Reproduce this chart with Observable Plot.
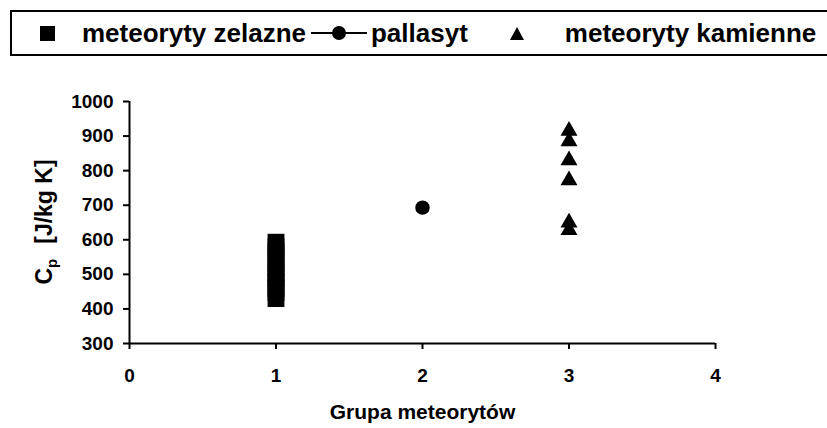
<!DOCTYPE html>
<html>
<head>
<meta charset="utf-8">
<script src="https://cdn.jsdelivr.net/npm/d3@7"></script>
<script src="https://cdn.jsdelivr.net/npm/@observablehq/plot@0.6"></script>
<style>
  body { margin: 0; background: #fff; font-family: "Liberation Sans", Arial, sans-serif; }
  #wrap { position: relative; width: 827px; height: 428px; overflow: hidden; background: #fff; }
  #legend { position: absolute; left: 10px; top: 10px; width: 840px; height: 42px; border: 2px solid #000;
            display: flex; align-items: center; font-weight: bold; font-size: 26px; color: #000; white-space: nowrap; }
  #legend .sq { display: inline-block; width: 15px; height: 15px; background: #000; margin-left: 28px; }
  #legend .t1 { margin-left: 27px; }
  #legend .lc { margin-left: 5px; margin-right: 4px; }
  #legend .tri { margin-left: 42px; }
  #legend .t3 { margin-left: 41px; }
  #chart { position: absolute; left: 0; top: 60px; }
</style>
</head>
<body>
<div id="wrap">
  <div id="legend"></div>
  <div id="chart"></div>
</div>
<script>
// ---- data ----
const seriesNames = ["meteoryty zelazne", "pallasyt", "meteoryty kamienne"];
const seriesGroup = [1, 2, 3];
const ironCp = [430, 448, 460, 477, 490, 502, 520, 535, 548, 565, 580, 593];
const pallasytCp = [693];
const stonyCp = [915, 885, 830, 772, 650, 628];
const xTicks = [0, 1, 2, 3, 4];
const yTicks = [300, 400, 500, 600, 700, 800, 900, 1000];
const xTitle = "Grupa meteorytów";
const yTitleMain = "C";
const yTitleSub = "p";
const yTitleUnit = "[J/kg K]";

const iron = ironCp.map(v => ({grupa: seriesGroup[0], cp: v}));
const pallas = pallasytCp.map(v => ({grupa: seriesGroup[1], cp: v}));
const stony = stonyCp.map(v => ({grupa: seriesGroup[2], cp: v}));

// ---- legend ----
const lg = document.getElementById("legend");
lg.innerHTML =
  `<span class="sq"></span><span class="t1">${seriesNames[0]}</span>` +
  `<svg class="lc" width="56" height="20"><line x1="0" x2="56" y1="10" y2="10" stroke="#000" stroke-width="2"/><circle cx="28" cy="10" r="7" fill="#000"/></svg>` +
  `<span>${seriesNames[1]}</span>` +
  `<svg class="tri" width="14" height="13"><path d="M7,0L14,13L0,13Z" fill="#000"/></svg>` +
  `<span class="t3">${seriesNames[2]}</span>`;

// ---- chart ----
const fmt = d3.format("d");
const chart = Plot.plot({
  width: 827,
  height: 368,
  marginLeft: 129,
  marginRight: 112,
  marginTop: 41,
  marginBottom: 85,
  x: {domain: [0, 4]},
  y: {domain: [300, 1000]},
  style: {fontFamily: "'Liberation Sans', Arial, sans-serif", fontWeight: "bold", fontSize: "19px", color: "#000", background: "#fff", overflow: "visible"},
  marks: [
    Plot.axisY({ticks: yTicks, tickFormat: fmt, tickSize: 6, tickPadding: 10, strokeWidth: 2, label: null, fontSize: 19, fontWeight: "bold"}),
    Plot.axisX({ticks: xTicks, tickFormat: fmt, tickSize: 6, tickPadding: 19, strokeWidth: 2, label: null, fontSize: 19, fontWeight: "bold"}),
    Plot.ruleX([0], {y1: 300, y2: 1000, strokeWidth: 2}),
    Plot.ruleY([300], {x1: 0, x2: 4, strokeWidth: 2}),
    Plot.dot(iron, {x: "grupa", y: "cp", symbol: "square", r: 9.5, fill: "#000", stroke: null}),
    Plot.dot(pallas, {x: "grupa", y: "cp", symbol: "circle", r: 7.2, fill: "#000", stroke: null}),
    Plot.dot(stony, {x: "grupa", y: "cp", symbol: "triangle", r: 6.3, fill: "#000", stroke: null}),
    Plot.text([xTitle], {frameAnchor: "bottom", lineAnchor: "middle", dy: 69, fontSize: 21, fontWeight: "bold", fill: "#000"})
  ]
});
document.getElementById("chart").appendChild(chart);

// y title with subscript
const svg = d3.select(chart);
const yl = svg.append("text")
  .attr("transform", `translate(44,${(41 + 283) / 2}) rotate(-90)`)
  .attr("text-anchor", "middle")
  .attr("dy", "0.35em")
  .attr("font-size", 23)
  .attr("font-weight", "bold")
  .attr("fill", "#000");
yl.append("tspan").text(yTitleMain);
yl.append("tspan").attr("font-size", 15).attr("dy", 5).text(yTitleSub);
yl.append("tspan").attr("dy", -5).attr("dx", 15).text(yTitleUnit);
</script>
</body>
</html>
